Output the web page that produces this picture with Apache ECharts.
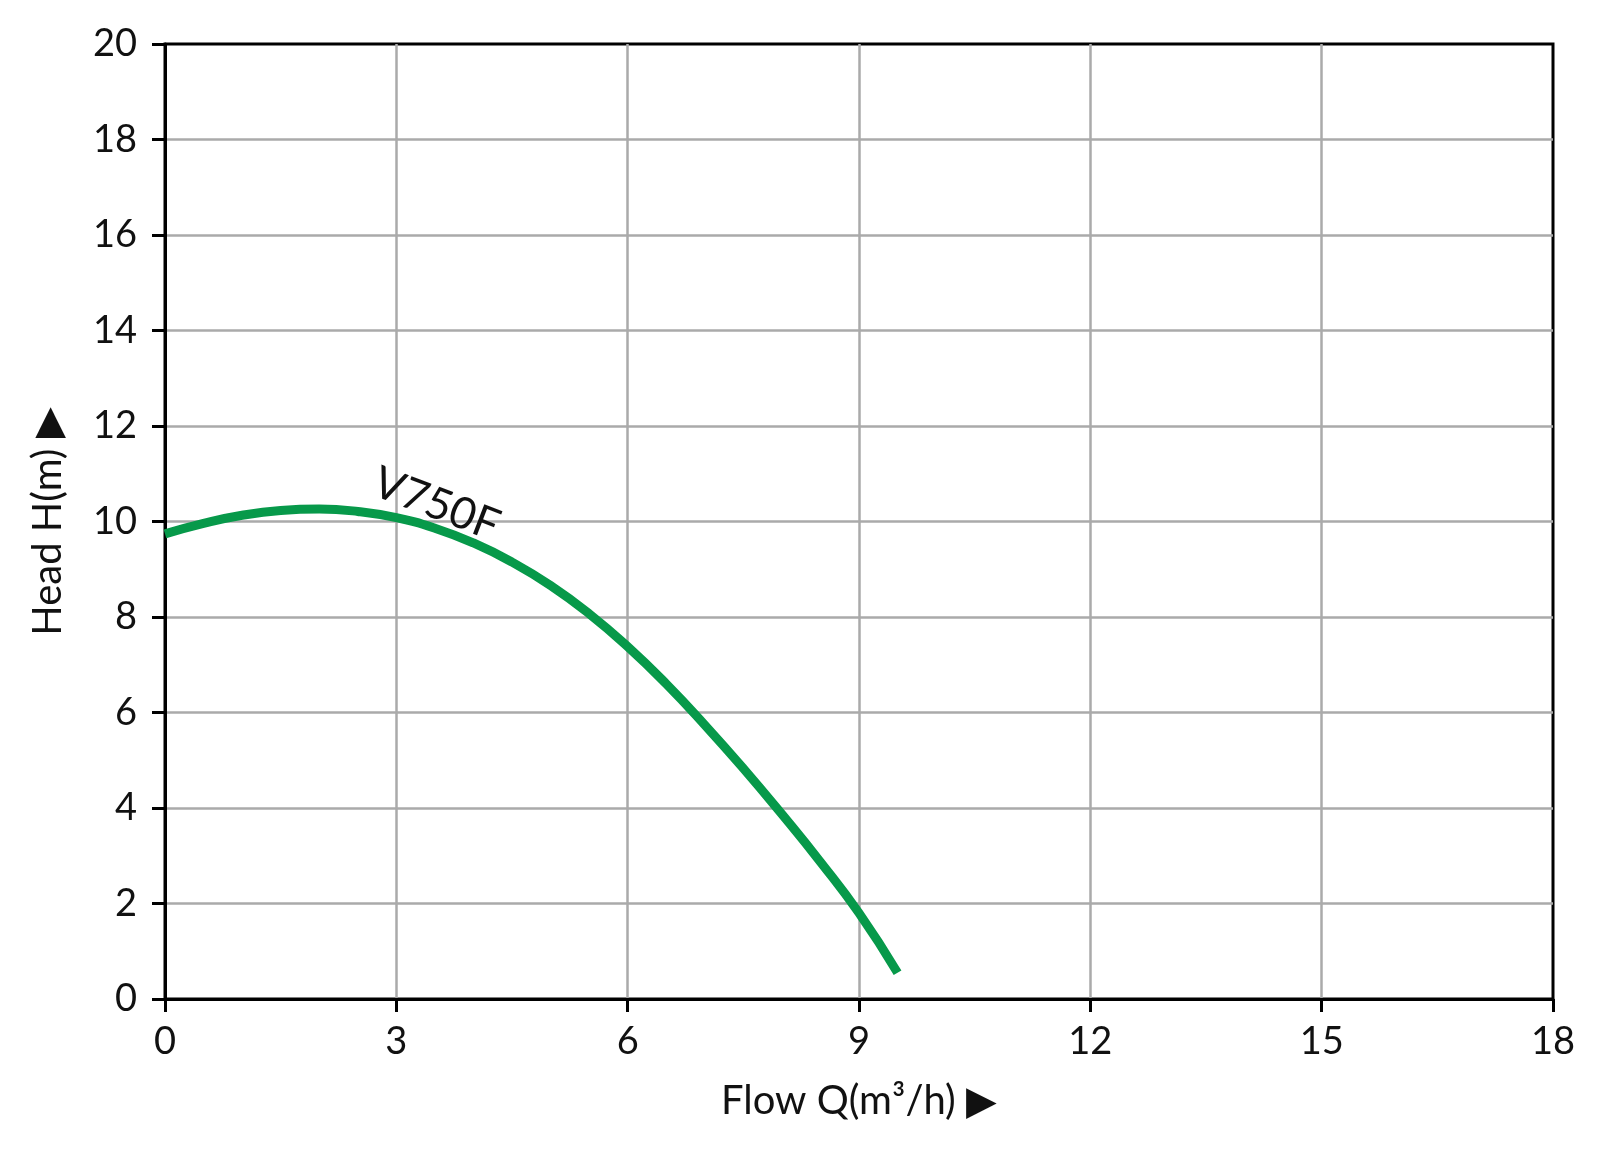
<!DOCTYPE html>
<html>
<head>
<meta charset="utf-8">
<title>V750F pump curve</title>
<script src="https://cdn.jsdelivr.net/npm/echarts@6/dist/echarts.min.js"></script>
<style>
html, body { margin: 0; padding: 0; background: #fff; }
#chart { width: 1600px; height: 1153px; }
</style>
</head>
<body>
<div id="chart"></div>
<script>
// flow Q (m3/h) and head H (m)
var flow = [0, 0.5, 1, 1.5, 2, 2.5, 3, 3.5, 4, 4.5, 5, 5.5, 6, 6.5, 7, 7.5, 8, 8.5, 9, 9.5];
var head = [9.74, 9.96, 10.13, 10.23, 10.26, 10.21, 10.08, 9.86, 9.55, 9.15, 8.66, 8.07, 7.38, 6.6, 5.74, 4.83, 3.87, 2.87, 1.8, 0.55];
var curveName = "V750F";
var labelAt = [3.52, 10.36];

var FONT = "Lato";

var points = [];
for (var i = 0; i < flow.length; i++) {
	points.push([flow[i], head[i]]);
}

var myChart = echarts.init(document.getElementById("chart"));
myChart.setOption({
	animation: false,
	backgroundColor: '#fff',
	grid: {
		left: 165,
		right: 47,
		top: 44,
		bottom: 154,
		show: true,
		borderColor: '#000',
		borderWidth: 3
	},
	xAxis: {
		type: 'value',
		min: 0,
		max: 18,
		interval: 3,
		name: 'Flow Q(m³/h) ▶',
		nameLocation: 'middle',
		nameGap: 82,
		nameTextStyle: { color: '#111', fontSize: 40, fontFamily: FONT },
		axisLine: { show: true, lineStyle: { color: '#000', width: 3 } },
		axisTick: { show: true, length: 13, lineStyle: { color: '#000', width: 3 } },
		axisLabel: { color: '#111', fontSize: 38, fontFamily: FONT, margin: 24 },
		splitLine: { show: true, showMinLine: false, showMaxLine: false, lineStyle: { color: '#aaa', width: 2.5 } }
	},
	yAxis: {
		type: 'value',
		min: 0,
		max: 20,
		interval: 2,
		name: 'Head H(m) ▶',
		nameLocation: 'middle',
		nameRotate: 90,
		nameGap: 97,
		nameTextStyle: { color: '#111', fontSize: 40, fontFamily: FONT },
		axisLine: { show: true, lineStyle: { color: '#000', width: 3 } },
		axisTick: { show: true, length: 13, lineStyle: { color: '#000', width: 3 } },
		axisLabel: { color: '#111', fontSize: 38, fontFamily: FONT, margin: 28 },
		splitLine: { show: true, showMinLine: false, showMaxLine: false, lineStyle: { color: '#aaa', width: 2.5 } }
	},
	series: [
		{
			name: curveName,
			type: 'line',
			smooth: true,
			symbol: 'none',
			lineStyle: { color: '#07994a', width: 9 },
			data: points,
			markPoint: {
				symbol: 'circle',
				symbolSize: 0,
				data: [{ coord: labelAt, value: curveName }],
				label: {
					show: true,
					formatter: curveName,
					color: '#111',
					fontSize: 44,
					fontFamily: FONT,
					rotate: -21
				}
			}
		}
	]
});
</script>
</body>
</html>
